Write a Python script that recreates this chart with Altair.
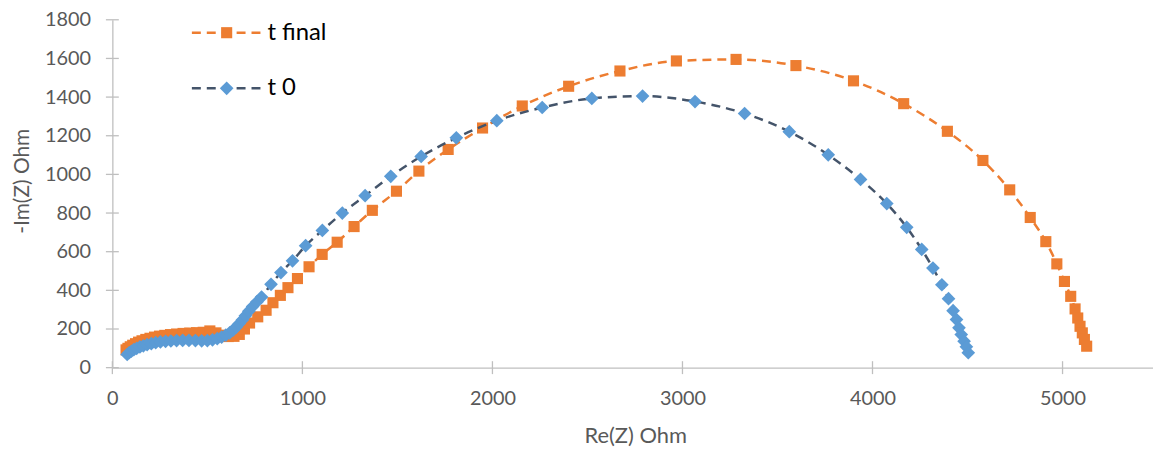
import altair as alt
import pandas as pd

# t final (orange squares)
tf_x = [72, 82, 94, 107, 122, 138, 156, 176, 198, 222, 248, 276, 306, 338, 372, 407, 443, 478,
        513, 545, 578, 610, 640, 668, 695, 722, 765, 809, 845, 884, 924, 974, 1035, 1104, 1183,
        1272, 1368, 1495, 1613, 1767, 1948, 2157, 2401, 2671, 2968, 3282, 3597, 3900, 4164, 4394,
        4581, 4722, 4830, 4912, 4970, 5010, 5043, 5066, 5080, 5092, 5104, 5115, 5127]
tf_y = [92, 100, 108, 116, 124, 132, 139, 146, 152, 158, 163, 167, 171, 174, 177, 179, 181, 183,
        190, 180, 168, 161, 162, 172, 200, 231, 263, 297, 336, 374, 414, 461, 522, 586, 649,
        730, 814, 913, 1017, 1129, 1240, 1354, 1456, 1535, 1587, 1595, 1563, 1484, 1366, 1223,
        1072, 920, 777, 652, 537, 446, 369, 304, 257, 214, 180, 146, 111]

# t 0 (blue diamonds)
t0_x = [78, 88, 100, 113, 128, 145, 163, 183, 205, 228, 253, 280, 308, 338, 370, 403, 437, 470,
        500, 527, 552, 575, 597, 617, 635, 652, 668, 684, 700, 718, 738, 760, 785, 835, 887, 948,
        1017, 1105, 1210, 1330, 1465, 1625, 1810, 2023, 2262, 2523, 2790, 3066, 3327, 3562, 3767,
        3937, 4075, 4180, 4259, 4318, 4365, 4400, 4424, 4442, 4455, 4467, 4482, 4494, 4504]
t0_y = [68, 77, 85, 93, 100, 107, 113, 119, 124, 129, 133, 136, 138, 140, 141, 141, 140, 139,
        140, 144, 150, 158, 168, 180, 194, 210, 228, 247, 268, 292, 316, 340, 365, 431, 492, 553,
        631, 710, 800, 890, 990, 1093, 1189, 1278, 1346, 1393, 1405, 1377, 1315, 1221, 1101,
        974, 849, 726, 612, 515, 429, 357, 295, 249, 206, 171, 137, 108, 77]

x_ticks = [0, 1000, 2000, 3000, 4000, 5000]
y_ticks = [0, 200, 400, 600, 800, 1000, 1200, 1400, 1600, 1800]
series_names = ["t final", "t 0"]

ORANGE = "#ED7D31"
BLUE = "#5B9BD5"
SLATE = "#44546A"
AXIS = "#BFBFBF"
TEXT = "#595959"
FONT = "Lato"

W, H = 1047, 350
XMAX = 5476

df_tf = pd.DataFrame({"x": tf_x, "y": tf_y})
df_t0 = pd.DataFrame({"x": t0_x, "y": t0_y})

xs = alt.Scale(domain=[0, XMAX], nice=False, zero=False)
ys = alt.Scale(domain=[0, 1800], nice=False)

x_axis = alt.Axis(
    title="Re(Z) Ohm", values=x_ticks, format="d", grid=False, ticks=False,
    domainColor=AXIS, domainWidth=1.3, labelColor=TEXT, labelFont=FONT, labelFontSize=20,
    labelPadding=21, labelFlush=False, titleFont=FONT, titleFontSize=22, titleColor=TEXT,
    titleFontWeight="normal", titleX=526, titleY=68, titleBaseline="middle")
y_axis = alt.Axis(
    title="-Im(Z) Ohm", values=y_ticks, format="d", grid=False, ticks=False,
    domainColor=AXIS, domainWidth=1.3, labelColor=TEXT, labelFont=FONT, labelFontSize=20,
    labelPadding=22, titleFont=FONT, titleFontSize=21, titleColor=TEXT,
    titleFontWeight="normal", titleX=-90, titleY=162, titleBaseline="middle", titleAngle=-90)

X = alt.X("x:Q", scale=xs, axis=x_axis)
Y = alt.Y("y:Q", scale=ys, axis=y_axis)

line_tf = alt.Chart(df_tf).mark_line(color=ORANGE, strokeWidth=2.5, strokeDash=[9, 6],
                                     interpolate="monotone").encode(x=X, y=Y)
pts_tf = alt.Chart(df_tf).mark_point(shape="square", filled=True, color=ORANGE, size=125,
                                     opacity=1).encode(x=X, y=Y)
line_t0 = alt.Chart(df_t0).mark_line(color=SLATE, strokeWidth=2.5, strokeDash=[9, 6],
                                     interpolate="monotone").encode(x=X, y=Y)
pts_t0 = alt.Chart(df_t0).mark_point(shape="diamond", filled=True, color=BLUE, size=190,
                                     opacity=1).encode(x=X, y=Y)

xt = pd.DataFrame({"x": x_ticks, "y": [0] * len(x_ticks)})
yt = pd.DataFrame({"x": [0] * len(y_ticks), "y": y_ticks})
xticks = alt.Chart(xt).mark_tick(orient="vertical", size=13, thickness=1.3, color=AXIS,
                                 opacity=1).encode(x=X, y=Y)
yticks = alt.Chart(yt).mark_tick(orient="horizontal", size=13, thickness=1.3, color=AXIS,
                                 opacity=1).encode(x=X, y=Y)

# legend (top-left inside the plot)
def legend_entry(name, ypos, line_color, marker_color, shape, size):
    base = alt.Chart(pd.DataFrame({"name": [name]}))
    rule = base.mark_rule(color=line_color, strokeWidth=2.5, strokeDash=[9, 6]).encode(
        x=alt.value(80), x2=alt.value(150), y=alt.value(ypos))
    mk = base.mark_point(shape=shape, filled=True, color=marker_color, size=size,
                         opacity=1).encode(x=alt.value(115), y=alt.value(ypos))
    txt = base.mark_text(align="left", baseline="middle", font=FONT, fontSize=24,
                         color="#000000").encode(
        x=alt.value(156), y=alt.value(ypos), text="name:N")
    return rule + mk + txt

leg1 = legend_entry(series_names[0], 13, ORANGE, ORANGE, "square", 125)
leg2 = legend_entry(series_names[1], 69, SLATE, BLUE, "diamond", 190)

chart = alt.layer(line_tf, pts_tf, line_t0, pts_t0, xticks, yticks, leg1, leg2).properties(
    width=W, height=H,
    background="white",
    autosize=alt.AutoSizeParams(type="none"),
    padding={"left": 105, "top": 10.5, "right": 0, "bottom": 82},
).configure_view(stroke=None)

chart.save("out.html", embed_options={"renderer": "svg", "actions": False})
